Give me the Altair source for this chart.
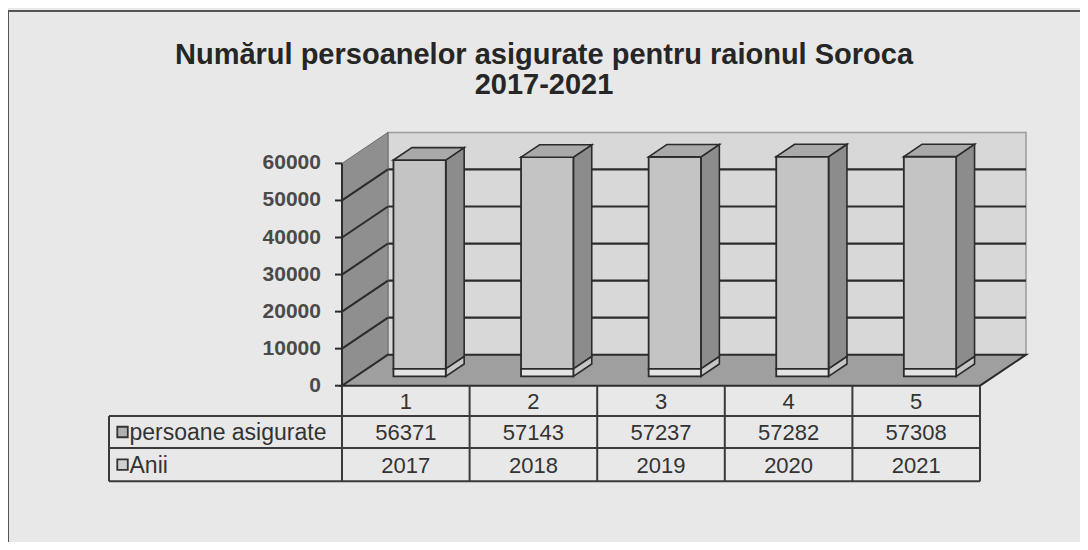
import altair as alt
import pandas as pd

# ---------------- data ----------------
categories = [1, 2, 3, 4, 5]
years = [2017, 2018, 2019, 2020, 2021]
insured = [56371, 57143, 57237, 57282, 57308]
series_names = ["persoane asigurate", "Anii"]
y_ticks = [0, 10000, 20000, 30000, 40000, 50000, 60000]
title_lines = ["Numărul persoanelor asigurate pentru raionul Soroca", "2017-2021"]

# ---------------- layout (projection of the 3-D box) ----------------
W, H = 1072, 531
X_DOMAIN = [-2.6176, 5.7837]
Y_DOMAIN = [-42186, 101134]
DX, DY = 0.3605, 8370          # depth of the floor / walls
FX, FY = 0.3 * DX, 0.3 * DY    # bars start 30% into the depth
BDX, BDY = 0.4 * DX, 0.4 * DY  # bar depth
HALF = 0.205                   # half bar width (category units)
AX_MAX = y_ticks[-1]
N = len(categories)
ROW_EDGES = [0, -8200, -16800, -25800]
LABEL_X = -1.826
LEGEND_X = -1.72
TICK = 0.055
TITLE_Y = 93100
FONT = "Liberation Sans"
DARK = "#2b2b2b"

FRONT = {"persoane asigurate": "#c4c4c4", "Anii": "#e4e4e4"}
SIDE = {"persoane asigurate": "#8c8c8c", "Anii": "#c6c6c6"}
LEGEND = {"persoane asigurate": "#b0b0b0", "Anii": "#d0d0d0"}

xs = alt.Scale(domain=X_DOMAIN, nice=False, zero=False)
ys = alt.Scale(domain=Y_DOMAIN, nice=False, zero=False)


def X(f):
    return alt.X(f"{f}:Q", scale=xs, axis=None)


def Y(f):
    return alt.Y(f"{f}:Q", scale=ys, axis=None)


def only(s):
    return alt.FieldEqualPredicate(field="series", equal=s)


# ---------------- walls & floor ----------------
back = pd.DataFrame({"x": [DX], "x2": [N + DX], "y": [DY], "y2": [AX_MAX + DY]})
back_wall = alt.Chart(back).mark_rect(fill="#d8d8d8", stroke="#9a9a9a", strokeWidth=1.5).encode(
    x=X("x"), x2="x2", y=Y("y"), y2="y2")

grid = pd.DataFrame({"x": DX, "x2": N + DX, "y": [t + DY for t in y_ticks[1:-1]]})
back_grid = alt.Chart(grid).mark_rule(color=DARK, strokeWidth=2.2).encode(
    x=X("x"), x2="x2", y=Y("y"))

lw = pd.DataFrame({"x": [0, DX], "y": [0, DY], "y2": [AX_MAX, AX_MAX + DY]})
left_wall = alt.Chart(lw).mark_area(fill="#8f8f8f", stroke="#6a6a6a", strokeWidth=1).encode(
    x=X("x"), y=Y("y"), y2="y2")

diag = pd.DataFrame({"x": 0, "x2": DX, "y": y_ticks[1:-1], "y2": [t + DY for t in y_ticks[1:-1]]})
left_grid = alt.Chart(diag).mark_rule(color=DARK, strokeWidth=2).encode(
    x=X("x"), x2="x2", y=Y("y"), y2="y2")

fl = pd.DataFrame({"y": [0, DY], "x": [0, DX], "x2": [N, N + DX]})
floor = alt.Chart(fl).mark_area(orient="horizontal", fill="#9f9f9f", stroke=DARK, strokeWidth=2).encode(
    y=Y("y"), x=X("x"), x2="x2")

# ---------------- bars (stacked: Anii at the bottom) ----------------
front_rows, side_rows, top_rows = [], [], []
for c, yr, ins in zip(categories, years, insured):
    xl = c - 0.5 - HALF + FX
    xr = c - 0.5 + HALF + FX
    segs = [("Anii", 0, yr), ("persoane asigurate", yr, yr + ins)]
    for s, b, t in segs:
        front_rows.append({"cat": c, "series": s, "x": xl, "x2": xr, "y": b + FY, "y2": t + FY})
        fid = f"{c}-{s}"
        side_rows.append({"face": fid, "series": s, "x": xr, "y": b + FY, "y2": t + FY})
        side_rows.append({"face": fid, "series": s, "x": xr + BDX, "y": b + FY + BDY, "y2": t + FY + BDY})
    top = yr + ins
    top_rows.append({"cat": c, "y": top + FY, "x": xl, "x2": xr})
    top_rows.append({"cat": c, "y": top + FY + BDY, "x": xl + BDX, "x2": xr + BDX})

side_df = pd.DataFrame(side_rows)
front_df = pd.DataFrame(front_rows)

bar_layers = []
for s in series_names:
    bar_layers.append(
        alt.Chart(side_df).transform_filter(only(s)).mark_area(
            fill=SIDE[s], stroke=DARK, strokeWidth=1.6).encode(
            x=X("x"), y=Y("y"), y2="y2", detail="face:N"))
for s in series_names:
    bar_layers.append(
        alt.Chart(front_df).transform_filter(only(s)).mark_rect(
            fill=FRONT[s], stroke=DARK, strokeWidth=1.8).encode(
            x=X("x"), x2="x2", y=Y("y"), y2="y2"))
bar_layers.append(
    alt.Chart(pd.DataFrame(top_rows)).mark_area(
        orient="horizontal", fill="#a9a9a9", stroke=DARK, strokeWidth=1.6).encode(
        y=Y("y"), x=X("x"), x2="x2", detail="cat:N"))

# ---------------- value axis ----------------
axis_line = alt.Chart(pd.DataFrame({"x": [0], "y": [0], "y2": [AX_MAX]})).mark_rule(
    color=DARK, strokeWidth=2).encode(x=X("x"), y=Y("y"), y2="y2")
ticks_df = pd.DataFrame({"x": -TICK, "x2": 0, "y": y_ticks, "label": [str(t) for t in y_ticks]})
tick_marks = alt.Chart(ticks_df).mark_rule(color=DARK, strokeWidth=2).encode(
    x=X("x"), x2="x2", y=Y("y"))
tick_labels = alt.Chart(ticks_df).mark_text(
    align="right", baseline="middle", dx=-14, font=FONT, fontSize=21, fontWeight="bold",
    color="#4a4a4a").encode(x=X("x"), y=Y("y"), text="label:N")

# ---------------- data table ----------------
vlines = pd.DataFrame({"x": list(range(0, N + 1)), "y": ROW_EDGES[0], "y2": ROW_EDGES[-1]})
table_v = alt.Chart(vlines).mark_rule(color="#3a3a3a", strokeWidth=2).encode(
    x=X("x"), y=Y("y"), y2="y2")
hlines = pd.DataFrame({"x": LABEL_X, "x2": N, "y": ROW_EDGES[1:]})
table_h = alt.Chart(hlines).mark_rule(color="#3a3a3a", strokeWidth=2).encode(
    x=X("x"), x2="x2", y=Y("y"))
left_edge = alt.Chart(pd.DataFrame({"x": [LABEL_X], "y": [ROW_EDGES[1]], "y2": [ROW_EDGES[3]]})).mark_rule(
    color="#3a3a3a", strokeWidth=2).encode(x=X("x"), y=Y("y"), y2="y2")

row_mid = [(ROW_EDGES[i] + ROW_EDGES[i + 1]) / 2 for i in range(3)]
cells = []
for c, yr, ins in zip(categories, years, insured):
    cells.append({"x": c - 0.5, "y": row_mid[0], "t": str(c)})
    cells.append({"x": c - 0.5, "y": row_mid[1], "t": str(ins)})
    cells.append({"x": c - 0.5, "y": row_mid[2], "t": str(yr)})
cell_text = alt.Chart(pd.DataFrame(cells)).mark_text(
    align="center", baseline="middle", dy=1, font=FONT, fontSize=22, color="#333333").encode(
    x=X("x"), y=Y("y"), text="t:N")

leg = pd.DataFrame({"x": LEGEND_X, "y": row_mid[1:], "series": series_names})
legend_layers = []
for s in series_names:
    legend_layers.append(
        alt.Chart(leg).transform_filter(only(s)).mark_square(
            size=110, fill=LEGEND[s], stroke="#333333", strokeWidth=1.8, opacity=1).encode(
            x=X("x"), y=Y("y")))
legend_txt = alt.Chart(leg).mark_text(
    align="left", baseline="middle", dx=7, dy=1, font=FONT, fontSize=23, color="#333333").encode(
    x=X("x"), y=Y("y"), text="series:N")

# ---------------- title & frame ----------------
title_df = pd.DataFrame({"x": [(X_DOMAIN[0] + X_DOMAIN[1]) / 2], "y": [TITLE_Y],
                         "t": ["\n".join(title_lines)]})
title = alt.Chart(title_df).mark_text(
    align="center", baseline="top", lineBreak="\n", lineHeight=30, font=FONT, fontSize=29,
    fontWeight="bold", color="#262626").encode(x=X("x"), y=Y("y"), text="t:N")

frame_left = alt.Chart(title_df).mark_rule(color="#555555", strokeWidth=2).encode(
    x=alt.value(0), y=alt.value(0), y2=alt.value(H))
frame_top = alt.Chart(title_df).mark_rule(color="#555555", strokeWidth=2).encode(
    x=alt.value(0), x2=alt.value(W), y=alt.value(0))

chart = alt.layer(
    back_wall, back_grid, left_wall, left_grid, floor,
    *bar_layers,
    axis_line, tick_marks, tick_labels,
    table_v, table_h, left_edge, cell_text, *legend_layers, legend_txt,
    title, frame_left, frame_top,
).properties(
    width=W, height=H,
    padding={"left": 0, "top": 3, "right": 0, "bottom": 0},
    autosize=alt.AutoSizeParams(type="none"),
    background="#e8e8e8",
).configure_view(stroke=None)

chart.save("out.html", embed_options={"renderer": "svg", "actions": False})
